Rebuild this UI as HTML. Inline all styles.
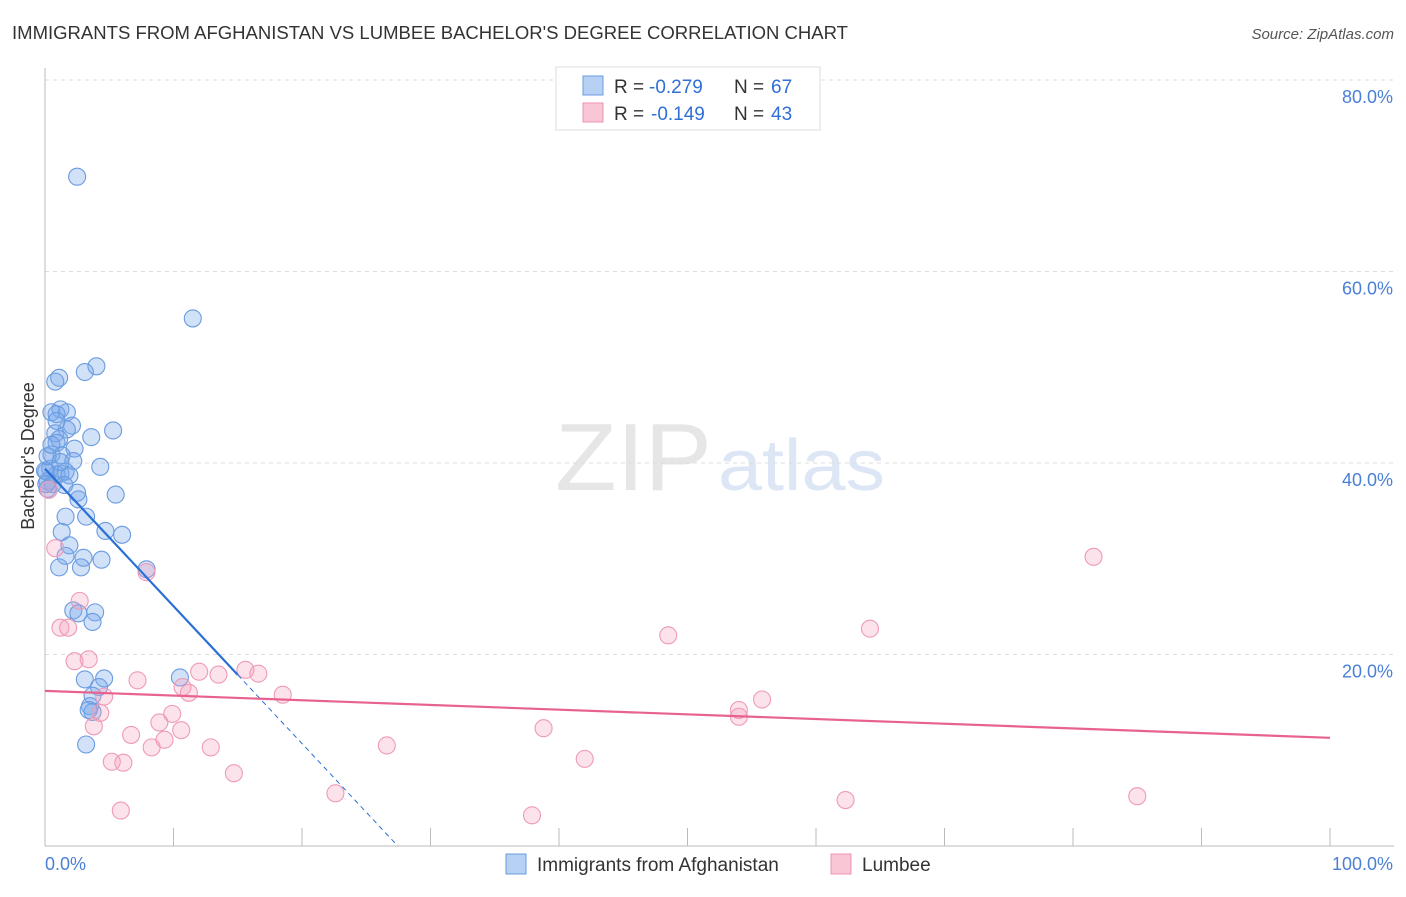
<!DOCTYPE html>
<html><head><meta charset="utf-8"><style>
body{margin:0;background:#fff;font-family:"Liberation Sans",sans-serif;}
svg text{font-family:"Liberation Sans",sans-serif;}
</style></head><body>
<svg id="c" width="1406" height="892">
<text x="12" y="39" font-size="18" fill="#333" textLength="836" lengthAdjust="spacingAndGlyphs">IMMIGRANTS FROM AFGHANISTAN VS LUMBEE BACHELOR'S DEGREE CORRELATION CHART</text>
<text x="1394" y="39" font-size="15" fill="#555" font-style="italic" text-anchor="end">Source: ZipAtlas.com</text>
<text x="555" y="490" font-size="96" fill="#e6e6e6" font-family="Liberation Serif" textLength="157" lengthAdjust="spacingAndGlyphs">ZIP</text>
<text x="718" y="490" font-size="72" fill="#dce6f5" textLength="167" lengthAdjust="spacingAndGlyphs">atlas</text>
<text transform="translate(34,456) rotate(-90)" font-size="18" fill="#333" text-anchor="middle">Bachelor's Degree</text>
<g id="grid"></g><g id="pts"></g><g id="lines"></g>
<g>
<rect x="556" y="67" width="264" height="63" fill="#fff" stroke="#ddd"/>
<rect x="583" y="76" width="20" height="19" fill="#b7d1f5" stroke="#6b9be0"/>
<rect x="583" y="103" width="20" height="19" fill="#f9c6d6" stroke="#ee93b0"/>
<text x="614" y="93" font-size="19" fill="#333">R =</text>
<text x="649" y="93" font-size="19" fill="#2f6fd6">-0.279</text>
<text x="734" y="93" font-size="19" fill="#333">N =</text>
<text x="771" y="93" font-size="19" fill="#2f6fd6">67</text>
<text x="614" y="120" font-size="19" fill="#333">R =</text>
<text x="651" y="120" font-size="19" fill="#2f6fd6">-0.149</text>
<text x="734" y="120" font-size="19" fill="#333">N =</text>
<text x="771" y="120" font-size="19" fill="#2f6fd6">43</text>
</g>
<g>
<rect x="506" y="854" width="20" height="20" fill="#b7d1f5" stroke="#6b9be0"/>
<text x="537" y="871" font-size="19" fill="#333">Immigrants from Afghanistan</text>
<rect x="831" y="854" width="20" height="20" fill="#f9c6d6" stroke="#ee93b0"/>
<text x="862" y="871" font-size="19" fill="#333">Lumbee</text>
</g>
<text x="45" y="870" font-size="18" fill="#4a7fd6">0.0%</text>
<text x="1393" y="870" font-size="18" fill="#4a7fd6" text-anchor="end">100.0%</text>
</svg>
<script>
const yTicks=[20,40,60,80];
const blueX=[2.5,11.5,4,3.1,1.1,0.8,1.2,0.5,1.7,0.9,2.1,5.3,3.6,1.7,0.8,1.1,0.9,2.3,0.5,1.3,2.2,0.4,1.2,1.6,0.1,0.9,1.9,0.2,0.6,1.5,2.5,0.2,5.5,2.6,3.2,1.6,1.3,4.7,6,1.9,1.6,3,4.4,1.1,2.8,7.9,2.2,3.9,2.6,3.7,10.5,4.6,3.1,4.2,3.7,3.5,3.7,3.4,3.2,0,0.2,0.5,1.2,0.9,0.1,4.3];
const blueY=[69.9,55.1,50.1,49.5,48.9,48.5,45.6,45.3,45.3,45.1,43.9,43.4,42.7,43.5,43.1,42.5,42.1,41.5,40.9,40.8,40.2,39.4,38.9,39.1,39.1,38.8,38.7,38.1,37.8,37.7,36.9,37.3,36.7,36.2,34.4,34.4,32.8,32.9,32.5,31.4,30.3,30.1,29.9,29.1,29.1,28.9,24.6,24.4,24.3,23.4,17.6,17.5,17.4,16.6,15.7,14.6,14,14.2,10.6,39.2,40.7,41.9,40.1,44.4,37.8,39.6];
const pinkX=[0.3,0.8,7.9,2.7,1.2,1.8,2.3,3.4,81.6,48.5,64.2,12,13.5,15.6,16.6,7.2,10.7,11.2,18.5,4.6,55.8,54,54,4.3,9.9,8.9,3.8,10.6,6.7,9.3,8.3,12.9,26.6,38.8,42,5.2,6.1,14.7,22.6,62.3,85,5.9,37.9];
const pinkY=[37.2,31.1,28.6,25.6,22.8,22.8,19.3,19.5,30.2,22.0,22.7,18.2,17.9,18.4,18.0,17.3,16.6,16.0,15.8,15.6,15.3,14.2,13.5,13.9,13.8,12.9,12.5,12.1,11.6,11.1,10.3,10.3,10.5,12.3,9.1,8.8,8.7,7.6,5.5,4.8,5.2,3.7,3.2];
const X=v=>45+v*12.85, Y=v=>846-v*9.575;
const ns="http://www.w3.org/2000/svg";
function mk(t,a,p){const e=document.createElementNS(ns,t);for(const k in a)e.setAttribute(k,a[k]);p.appendChild(e);return e;}
const g=document.getElementById('grid');
yTicks.forEach(t=>{
 const l=mk('line',{x1:45,x2:1394,y1:Y(t),y2:Y(t),stroke:'#ddd','stroke-dasharray':'4,4'},g);
 
 
 const tx=mk('text',{x:1393,y:Y(t)+23,'font-size':18,fill:'#4a7fd6','text-anchor':'end'},g);
 tx.textContent=t.toFixed(1)+'%';
 
 
});
mk('line',{x1:45,x2:45,y1:68,y2:846,stroke:'#bbb'},g);
mk('line',{x1:45,x2:1394,y1:846,y2:846,stroke:'#bbb'},g);
for(let i=0;i<=10;i++){mk('line',{x1:X(i*10),x2:X(i*10),y1:828,y2:846,stroke:'#bbb'},g);}
const p=document.getElementById('pts');
blueX.forEach((v,i)=>{const c=mk('circle',{cx:X(v),cy:Y(blueY[i]),r:8.5,fill:'rgba(120,170,235,0.35)',stroke:'#6b9be0','stroke-width':1.1},p);
 
 });
pinkX.forEach((v,i)=>{const c=mk('circle',{cx:X(v),cy:Y(pinkY[i]),r:8.5,fill:'rgba(245,160,190,0.3)',stroke:'#ef9ab6','stroke-width':1.1},p);
 
 });
const L=document.getElementById('lines');
const b0=39.4,b1=-1.435,k0=16.2,k1=-0.049;
const bl=mk('line',{x1:X(0),y1:Y(b0),x2:X(15),y2:Y(b0+b1*15),stroke:'#2a6fd6','stroke-width':2.2},L);


mk('line',{x1:X(15),y1:Y(b0+b1*15),x2:X(-b0/b1),y2:Y(0),stroke:'#2a6fd6','stroke-width':1,'stroke-dasharray':'5,4'},L);
const pl=mk('line',{x1:X(0),y1:Y(k0),x2:X(100),y2:Y(k0+k1*100),stroke:'#e8628f','stroke-width':2.2},L);


</script>
</body></html>
